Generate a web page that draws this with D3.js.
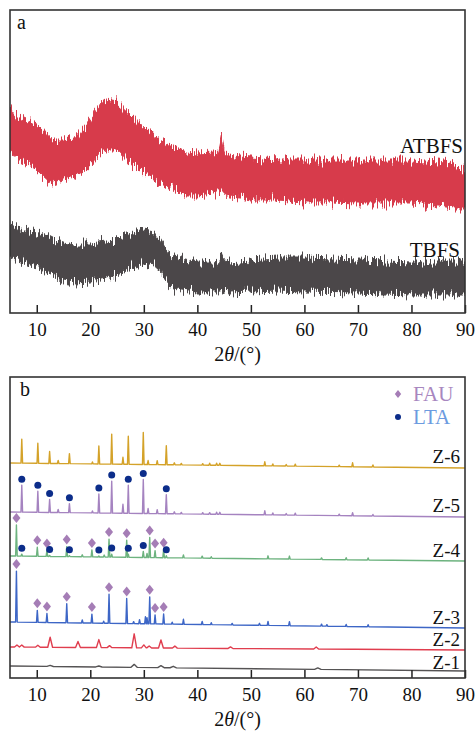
<!DOCTYPE html>
<html>
<head>
<meta charset="utf-8">
<script src="https://d3js.org/d3.v7.min.js"></script>
<style>
  body { margin: 0; background: #fff; }
  svg { display: block; font-family: 'Liberation Serif', 'Times New Roman', serif; }
</style>
</head>
<body>
<div id="chart"></div>
<script>
// Panel a: band envelopes (upper / lower intensity, a.u.)
const atbfsDeg = [5, 6, 8, 10, 12, 13, 15, 17, 19, 20, 22, 23, 25, 27, 29, 31, 33, 35, 38, 40, 43, 44.0, 44.5, 45.0, 46, 48, 50, 55, 60, 65, 70, 75, 80, 85, 88, 90]
const atbfsHi = [206, 198, 193, 188, 178, 173, 173, 175, 185, 193, 209, 213, 211, 201, 191, 181, 173, 167, 161, 160, 161, 162, 176, 161, 158, 156, 155, 153, 153, 153, 153, 153, 153, 151, 148, 143]
const atbfsLo = [163, 155, 150, 143, 133, 130, 133, 136, 143, 148, 161, 163, 163, 153, 145, 138, 131, 125, 118, 118, 120, 120, 125, 119, 116, 115, 113, 113, 111, 111, 110, 110, 110, 108, 106, 106]

const tbfsDeg = [5, 7, 10, 13, 15, 17, 20, 23, 26, 28, 30, 32, 33, 34, 35, 37, 40, 43, 44.0, 44.5, 45.0, 46, 50, 55, 60, 70, 80, 90]
const tbfsHi = [88, 85, 81, 73, 70, 68, 68, 70, 75, 80, 83, 81, 75, 65, 58, 55, 51, 51, 52, 59, 52, 51, 53, 55, 55, 53, 51, 51]
const tbfsLo = [55, 51, 46, 38, 33, 31, 32, 35, 40, 46, 50, 48, 43, 33, 26, 23, 21, 21, 21, 25, 21, 20, 21, 22, 21, 20, 18, 18]

// Panel b: peaks [2theta, height] for each sample
const z1Peaks = [[12.5, 1], [21.6, 1], [28.2, 3], [33.2, 2], [35.5, 1.5], [62.5, 1.5]]
const z2Peaks = [[6.3, 2], [7.2, 2], [10.2, 2], [12.5, 10], [17.7, 6], [21.6, 8], [23.6, 2], [28.2, 14], [30.0, 3], [31.0, 2], [33.2, 8], [35.8, 2], [46.2, 1.5], [62.2, 2]]
const z3Peaks = [[6.2, 51], [10.1, 12], [11.9, 9], [15.6, 19], [18.5, 3], [20.3, 9], [22.5, 2], [23.5, 29], [26.8, 25], [28.1, 2], [29.2, 4], [30.3, 7], [30.6, 6], [31.1, 27], [32.1, 9], [33.7, 10], [35.3, 2], [37.4, 5], [40.9, 3], [42.6, 2], [46.5, 1.5], [51.6, 2], [53.2, 4], [57.2, 4], [63.2, 2], [64.2, 1.5], [67.8, 2], [71.9, 2]]
const z4Peaks = [[6.2, 31], [7.2, 2], [10.1, 9], [11.9, 6], [12.4, 1], [15.6, 10], [16.1, 1], [18.5, 2], [20.3, 7], [21.6, 1], [22.6, 2], [23.5, 18], [24.0, 3], [26.8, 17], [27.1, 3], [29.9, 6], [30.6, 4], [31.1, 20], [32.1, 7], [33.7, 8], [34.2, 2], [37.4, 3], [40.9, 2], [42.6, 1.5], [53.2, 3], [57.2, 3], [63.2, 1.5], [67.8, 2], [71.9, 2]]
const z5Peaks = [[7.2, 27], [10.2, 21], [12.4, 13], [14.0, 3], [16.1, 9], [20.4, 2], [21.6, 19], [24.0, 32], [26.1, 9], [27.1, 28], [29.9, 34], [30.8, 5], [32.5, 4], [34.2, 19], [35.7, 2], [37.0, 1.5], [41.0, 1.5], [42.3, 1.5], [43.6, 2], [44.2, 2], [52.6, 4], [54.1, 2], [56.6, 1.5], [58.3, 2], [66.5, 1.5], [69.0, 3], [72.8, 1.5]]
const z6Peaks = [[7.2, 24], [10.2, 20], [12.4, 12], [14.0, 3], [16.1, 10], [20.4, 2], [21.6, 18], [24.0, 30], [26.1, 7], [27.1, 28], [29.9, 32], [30.8, 4], [32.5, 4], [34.2, 19], [35.7, 2], [37.0, 1.5], [41.0, 1.5], [42.3, 2], [43.6, 2], [44.2, 2], [52.6, 4], [54.1, 2], [56.6, 1.5], [58.3, 2], [66.5, 1.5], [69.0, 4], [72.8, 2]]

const zNames = ['Z-1', 'Z-2', 'Z-3', 'Z-4', 'Z-5', 'Z-6']
const zPeaks = [z1Peaks, z2Peaks, z3Peaks, z4Peaks, z5Peaks, z6Peaks]
// baseline at 5° and at 90°
const zBase = [[12, 7], [31, 28], [56, 50], [122, 117], [166, 161], [215, 210]]
const zColors = ['#555354', '#e03d4e', '#3d66c6', '#6db37f', '#a583c0', '#d4a229']
const zWidth = [0.6, 0.45, 0.15, 0.15, 0.15, 0.15]

// phase markers: [sample index, positions]
const fauMarks = [[2, [6.2, 10.1, 11.9, 15.6, 20.3, 23.5, 26.8, 31.1, 32.1, 33.7]], [3, [6.2, 10.1, 11.9, 15.6, 20.3, 23.5, 26.8, 31.1, 32.1, 33.7]]]
const ltaMarks = [[3, [7.2, 12.4, 16.1, 21.6, 24.0, 27.1, 29.9, 34.2]], [4, [7.2, 10.2, 12.4, 16.1, 21.6, 24.0, 27.1, 29.9, 34.2]]]

const xTicks = [10, 20, 30, 40, 50, 60, 70, 80, 90]

function draw() {
  const dimensions = { width: 476, height: 733, left: 10, right: 465 }
  const panels = [{ top: 10, bottom: 313 }, { top: 377, bottom: 678 }]

  const svg = d3.select('#chart')
    .append('svg')
    .attr('width', dimensions.width)
    .attr('height', dimensions.height)

  svg.append('rect').attr('width', dimensions.width).attr('height', dimensions.height).attr('fill', '#fff')

  const xScale = d3.scaleLinear().domain([5, 90]).range([dimensions.left, dimensions.right])
  const yA = d3.scaleLinear().domain([0, 303]).range([panels[0].bottom, panels[0].top])
  const yB = d3.scaleLinear().domain([0, 301]).range([panels[1].bottom, panels[1].top])

  const defs = svg.append('defs')
  panels.forEach((p, i) => {
    defs.append('clipPath').attr('id', 'clip' + i)
      .append('rect')
      .attr('x', dimensions.left).attr('y', p.top)
      .attr('width', dimensions.right - dimensions.left)
      .attr('height', p.bottom - p.top)
  })

  // jagged look of the noisy scans (rendering only)
  const rough = defs.append('filter').attr('id', 'rough')
    .attr('x', '-2%').attr('y', '-40%').attr('width', '104%').attr('height', '180%')
  rough.append('feTurbulence')
    .attr('type', 'fractalNoise')
    .attr('baseFrequency', '0.9 0.04')
    .attr('numOctaves', 2)
    .attr('seed', 3)
    .attr('result', 'noise')
  rough.append('feColorMatrix')
    .attr('in', 'noise')
    .attr('type', 'matrix')
    .attr('values', '0 0 0 0 0.5  0 1 0 0 0  0 0 0 0 0  0 0 0 0 1')
    .attr('result', 'shift')
  rough.append('feDisplacementMap')
    .attr('in', 'SourceGraphic')
    .attr('in2', 'shift')
    .attr('scale', 22)
    .attr('xChannelSelector', 'R')
    .attr('yChannelSelector', 'G')

  // Panel a
  const gA = svg.append('g').attr('clip-path', 'url(#clip0)')
  const band = d3.area()
    .x(d => xScale(d[0]))
    .y0(d => yA(d[2]))
    .y1(d => yA(d[1]))

  const bands = [
    { deg: atbfsDeg, hi: atbfsHi, lo: atbfsLo, color: '#d73a4b' },
    { deg: tbfsDeg, hi: tbfsHi, lo: tbfsLo, color: '#4b4748' }
  ]
  bands.forEach(b => {
    const pts = b.deg.map((d, i) => [d, b.hi[i], b.lo[i]])
    gA.append('g').attr('filter', 'url(#rough)')
      .append('path')
      .datum(pts)
      .attr('d', band)
      .attr('fill', b.color)
      .attr('stroke', b.color)
      .attr('stroke-width', 1)
  })

  svg.append('text').attr('x', 463).attr('y', 153).attr('text-anchor', 'end')
    .attr('font-size', 21).attr('fill', '#111').text('ATBFS')
  svg.append('text').attr('x', 460).attr('y', 257).attr('text-anchor', 'end')
    .attr('font-size', 21).attr('fill', '#111').text('TBFS')

  // Panel b
  const gB = svg.append('g').attr('clip-path', 'url(#clip1)')
  const line = d3.line().x(d => xScale(d[0])).y(d => yB(d[1]))

  const series = zNames.map((name, i) => {
    const baseAt = d3.scaleLinear().domain([5, 90]).range(zBase[i])
    const w = zWidth[i]
    const pts = [[5, baseAt(5)]]
    zPeaks[i].forEach(([p, h]) => {
      pts.push([p - w, baseAt(p - w)], [p, baseAt(p) + h], [p + w, baseAt(p + w)])
    })
    pts.push([90, baseAt(90)])
    pts.sort((a, b) => a[0] - b[0])
    const top = p => {
      const pk = zPeaks[i].find(d => Math.abs(d[0] - p) < 0.05)
      return baseAt(p) + (pk ? pk[1] : 0)
    }
    return { name, pts, baseAt, top, color: zColors[i] }
  })

  gB.selectAll('path.pattern')
    .data(series)
    .join('path')
    .classed('pattern', true)
    .attr('d', d => line(d.pts))
    .attr('fill', 'none')
    .attr('stroke', d => d.color)
    .attr('stroke-width', 1.4)
    .attr('stroke-linejoin', 'round')

  // label lift above each baseline
  const labelLift = [2, 4, 4, 4, 5, 5]
  svg.selectAll('text.zlabel')
    .data(series)
    .join('text')
    .classed('zlabel', true)
    .attr('x', 460)
    .attr('y', (d, i) => yB(d.baseAt(90)) - labelLift[i])
    .attr('text-anchor', 'end')
    .attr('font-size', 19)
    .attr('fill', '#111')
    .text(d => d.name)

  const diamond = 'M0,-5L4,0L0,5L-4,0Z'
  fauMarks.forEach(([si, pos]) => {
    svg.append('g').selectAll('path')
      .data(pos)
      .join('path')
      .attr('d', diamond)
      .attr('fill', '#a57db6')
      .attr('transform', p => `translate(${xScale(p)}, ${yB(series[si].top(p)) - 7})`)
  })
  ltaMarks.forEach(([si, pos]) => {
    svg.append('g').selectAll('circle')
      .data(pos)
      .join('circle')
      .attr('r', 3.5)
      .attr('fill', '#0c2d8a')
      .attr('cx', p => xScale(p))
      .attr('cy', p => yB(series[si].top(p)) - 6)
  })

  // Legend
  const legend = svg.append('g')
  legend.append('path').attr('d', 'M0,-4L3.2,0L0,4L-3.2,0Z').attr('fill', '#a57db6')
    .attr('transform', 'translate(398, 394)')
  legend.append('text').attr('x', 413).attr('y', 401).attr('font-size', 21)
    .attr('fill', '#a887bf').text('FAU')
  legend.append('circle').attr('cx', 398).attr('cy', 417).attr('r', 3).attr('fill', '#0c2d8a')
  legend.append('text').attr('x', 413).attr('y', 424).attr('font-size', 21)
    .attr('fill', '#6c9be0').text('LTA')

  // Frames, axes, titles
  const xAxis = d3.axisBottom(xScale)
    .tickValues(xTicks)
    .tickSizeInner(-8)
    .tickSizeOuter(0)
    .tickPadding(10)

  const panelLabels = ['a', 'b']
  panels.forEach((p, i) => {
    const ax = svg.append('g')
      .attr('transform', `translate(0, ${p.bottom})`)
      .call(xAxis)
    ax.select('.domain').remove()
    ax.selectAll('.tick line').attr('stroke', '#222').attr('stroke-width', 1.5)
    ax.selectAll('.tick text')
      .attr('font-size', 19)
      .attr('font-family', "'Liberation Serif', 'Times New Roman', serif")
      .attr('fill', '#111')

    svg.append('rect')
      .attr('x', dimensions.left).attr('y', p.top)
      .attr('width', dimensions.right - dimensions.left)
      .attr('height', p.bottom - p.top)
      .attr('fill', 'none')
      .attr('stroke', '#333')
      .attr('stroke-width', 1.6)

    const title = svg.append('text')
      .attr('x', (dimensions.left + dimensions.right) / 2)
      .attr('y', p.bottom + 48)
      .attr('text-anchor', 'middle')
      .attr('font-size', 20)
      .attr('fill', '#111')
    title.append('tspan').text('2')
    title.append('tspan').attr('font-style', 'italic').text('θ')
    title.append('tspan').text('/(°)')

    svg.append('text')
      .attr('x', i === 0 ? 17 : 20)
      .attr('y', p.top + 19)
      .attr('font-size', 20)
      .attr('fill', '#111')
      .text(panelLabels[i])
  })
}

draw()
</script>
</body>
</html>
